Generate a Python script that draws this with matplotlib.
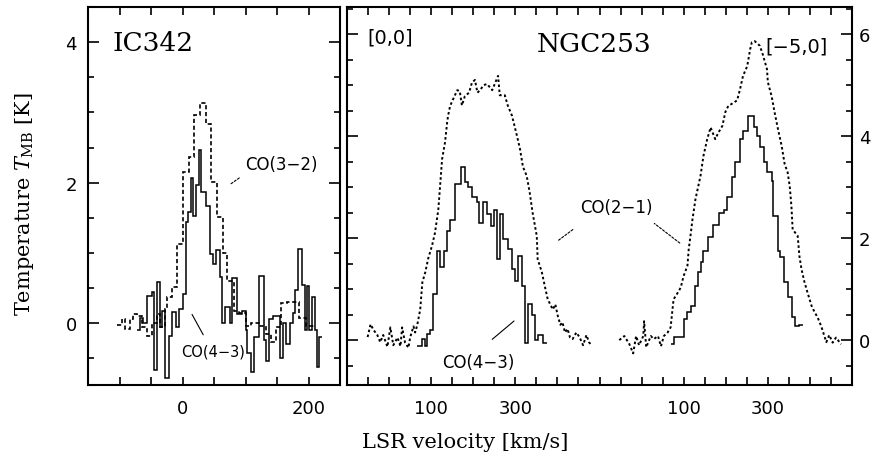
import matplotlib
matplotlib.use("Agg")
import matplotlib.pyplot as plt
import numpy as np

# ---------------- data ----------------
# IC342 CO(4-3) (solid histogram): channel edges [km/s] and T_MB [K]
ic_co43_edges = [-73, -68, -62, -56, -49, -46, -41, -35, -32, -27, -22, -16, -11, -5, 1,
                 5, 9, 13, 17, 22, 26, 30, 37, 43, 49, 53, 59, 63, 68, 76, 79, 86, 94,
                 100, 103, 108, 113, 121, 130, 133, 138, 144, 154, 160, 165, 170, 175,
                 179, 184, 190, 194, 197, 200, 205, 210, 213, 217, 222]
ic_co43_T = [-0.1, 0.07, 0.0, 0.39, 0.44, -0.66, 0.58, -0.06, 0.18, -0.78, -0.18, 0.16,
             -0.06, 0.2, 0.42, 1.44, 1.58, 2.06, 1.53, 1.96, 2.46, 1.87, 1.67, 0.99, 0.84,
             1.04, 0.66, 0.0, 0.23, 0.0, 0.64, 0.13, 0.17, -0.1, -0.43, -0.69, -0.2, 0.67,
             -0.24, -0.54, 0.06, 0.1, -0.5, 0.0, -0.3, 0.0, 0.15, 0.47, 1.06, 0.55, -0.1,
             0.53, -0.1, 0.37, -0.1, -0.62, -0.2]

# IC342 CO(3-2) (dashed histogram)
ic_co32_edges = [-104, -96, -92, -84, -79, -73, -65, -57, -49, -41, -36, -28, -24, -16, -8,
                 0, 11, 19, 27, 38, 46, 55, 64, 71, 82, 90, 101, 109, 122, 133, 141, 149,
                 156, 166, 185, 196, 212]
ic_co32_T = [-0.03, 0.06, -0.08, 0.06, 0.13, 0.1, -0.06, -0.18, 0.0, 0.13, -0.06, 0.2,
             0.37, 0.51, 1.13, 2.15, 2.37, 2.96, 3.13, 2.84, 2.01, 1.51, 1.0, 0.6, 0.17,
             0.14, -0.04, 0.0, -0.04, -0.15, -0.27, -0.05, 0.28, 0.3, 0.07, -0.04]

# NGC253 [0,0] CO(4-3) (solid histogram)
n00_co43_edges = [67, 79, 86, 91, 98, 105, 114, 121, 131, 138, 145, 157, 171, 180, 188,
                  197, 209, 214, 223, 233, 242, 249, 256, 263, 270, 282, 292, 299, 306,
                  315, 322, 330, 339, 346, 353, 365, 375]
n00_co43_T = [-0.11, 0.03, -0.11, 0.12, 0.2, 0.9, 1.75, 1.43, 1.75, 2.14, 2.35, 3.06,
              3.39, 3.1, 3.0, 2.8, 2.7, 2.3, 2.7, 2.47, 2.24, 2.55, 1.59, 2.47, 1.98,
              1.78, 1.39, 1.16, 1.65, 1.06, -0.05, 0.7, 0.5, 0.0, 0.1, -0.05]

# NGC253 [0,0] CO(2-1) (dotted)
n00_co21_v = [-51, -44, -37, -28, -21, -14, -4, 3, 10, 20, 27, 31, 38, 46, 50, 58, 62, 67,
              74, 79, 86, 93, 102, 109, 117, 121, 126, 133, 138, 140, 145, 152, 162, 168,
              173, 180, 190, 197, 204, 210, 216, 225, 233, 245, 259, 263, 275, 282, 292,
              304, 311, 318, 327, 334, 341, 351, 353, 363, 370, 377, 389, 395, 401, 407,
              412, 418, 424, 430, 436, 445, 453, 461, 469, 475, 481]
n00_co21_T = [0.06, 0.31, 0.2, 0.1, -0.04, 0.1, -0.13, 0.25, -0.1, 0.05, -0.12, 0.25,
              -0.05, -0.15, 0.05, 0.27, 0.15, 0.3, 0.6, 1.13, 1.33, 1.6, 1.85, 2.1, 2.56,
              3.0, 3.55, 3.88, 4.27, 4.39, 4.59, 4.72, 4.9, 4.88, 4.6, 4.78, 4.85, 5.05,
              5.1, 4.85, 4.9, 5.0, 5.02, 4.9, 5.18, 4.8, 4.8, 4.6, 4.4, 4.0, 3.75, 3.4,
              3.22, 2.9, 2.5, 2.04, 1.59, 1.33, 1.06, 0.8, 0.6, 0.7, 0.47, 0.3, 0.35,
              0.15, 0.22, 0.05, 0.02, 0.15, 0.05, -0.1, 0.1, -0.04, -0.1]

# NGC253 [-5,0] CO(4-3) (solid histogram)
n50_co43_edges = [69, 76, 100, 109, 117, 126, 133, 140, 147, 157, 169, 183, 195, 204, 216,
                  223, 235, 242, 252, 266, 275, 282, 290, 299, 309, 313, 323, 330, 339,
                  349, 358, 365, 373, 384]
n50_co43_T = [-0.08, 0.06, 0.41, 0.55, 0.67, 1.06, 1.33, 1.53, 1.75, 2.02, 2.25, 2.5,
              2.55, 2.8, 3.2, 3.5, 3.94, 4.1, 4.4, 4.17, 4.0, 3.78, 3.49, 3.3, 3.12, 2.43,
              1.75, 1.63, 1.14, 0.84, 0.45, 0.28, 0.3]

# NGC253 [-5,0] CO(2-1) (dotted)
n50_co21_v = [-53, -41, -29, -20, -13, -6, 4, 6, 11, 22, 29, 39, 46, 53, 62, 69, 76, 86,
              93, 100, 109, 112, 116, 121, 128, 140, 147, 156, 164, 175, 182, 192, 199,
              206, 218, 227, 234, 241, 251, 258, 262, 269, 281, 288, 298, 300, 309, 316,
              324, 333, 340, 347, 352, 356, 359, 371, 375, 380, 387, 394, 404, 411, 418,
              427, 439, 446, 454, 462, 474]
n50_co21_T = [0.0, 0.08, -0.08, -0.26, 0.08, -0.1, 0.08, 0.37, -0.14, 0.08, 0.02, 0.08,
              -0.12, 0.08, 0.15, 0.25, 0.8, 0.93, 1.03, 1.26, 1.46, 1.78, 2.03, 2.37,
              2.76, 3.22, 3.61, 3.94, 4.17, 3.94, 4.06, 4.2, 4.47, 4.59, 4.65, 4.7, 4.92,
              5.18, 5.37, 5.7, 5.84, 5.86, 5.77, 5.6, 5.31, 5.06, 4.78, 4.47, 4.14, 3.8,
              3.45, 3.29, 3.02, 2.63, 2.17, 2.04, 1.65, 1.39, 1.14, 0.94, 0.67, 0.55,
              0.45, 0.27, -0.04, 0.1, -0.05, 0.05, -0.08]

offset_right = 600.0   # the [-5,0] spectrum is drawn shifted along the panel's x axis

# ---------------- figure ----------------
plt.rcParams['mathtext.fontset'] = 'dejavuserif'
fig = plt.figure(figsize=(8.74, 4.6), dpi=100)
W, H = 874.0, 460.0
axL = fig.add_axes([88 / W, 1 - 386 / H, 252 / W, 378 / H])
axR = fig.add_axes([347 / W, 1 - 386 / H, 505 / W, 378 / H])

lw_spine = 1.5
for ax in (axL, axR):
    for s in ax.spines.values():
        s.set_linewidth(lw_spine)

solid_kw = dict(color='black', linewidth=1.1, baseline=None)
dash_kw = dict(color='black', linewidth=1.2, linestyle=(0, (2.5, 1.6)), baseline=None)
dot_kw = dict(color='black', linewidth=1.4, linestyle=(0, (1.3, 1.3)))

# Left panel: IC342
axL.stairs(ic_co32_T, ic_co32_edges, **dash_kw)
axL.stairs(ic_co43_T, ic_co43_edges, **solid_kw)
axL.set_xlim(-150, 250)
axL.set_ylim(-0.88, 4.5)

# Right panel: NGC253
axR.plot(n00_co21_v, n00_co21_T, **dot_kw)
axR.stairs(n00_co43_T, n00_co43_edges, **solid_kw)
axR.plot(np.array(n50_co21_v) + offset_right, n50_co21_T, **dot_kw)
axR.stairs(n50_co43_T, np.array(n50_co43_edges) + offset_right, **solid_kw)
axR.set_xlim(-100, 1100)
axR.set_ylim(-0.88, 6.53)

tick_font = dict(family='DejaVu Sans', size=13)

# Left panel ticks
axL.set_xticks(np.arange(-100, 201, 50))
axL.set_xticklabels(['' if v not in (0, 200) else str(v) for v in range(-100, 201, 50)], **tick_font)
axL.set_yticks([0, 2, 4])
axL.set_yticklabels(['0', '2', '4'], **tick_font)
axL.set_yticks(np.arange(-0.5, 4.51, 0.5), minor=True)
axL.tick_params(axis='both', which='both', direction='in', top=True, right=True, width=1.2)
axL.tick_params(axis='x', which='major', length=6, pad=10)
axL.tick_params(axis='y', which='major', length=8, pad=8)
axL.tick_params(axis='y', which='minor', length=4)

# Right panel ticks
xt = np.arange(-50, 1051, 50)
labs = {100: '100', 300: '300', 700: '100', 900: '300'}
axR.set_xticks(xt)
axR.set_xticklabels([labs.get(int(v), '') for v in xt], **tick_font)
axR.set_yticks([0, 2, 4, 6])
axR.set_yticklabels(['0', '2', '4', '6'], **tick_font)
axR.set_yticks(np.arange(-0.5, 6.51, 0.5), minor=True)
axR.tick_params(axis='both', which='both', direction='in', top=True, right=True, width=1.2)
axR.tick_params(axis='x', which='major', length=6, pad=10)
axR.tick_params(axis='y', which='major', length=8, pad=5, labelleft=False, labelright=True)
axR.tick_params(axis='y', which='minor', length=4)

# Titles / labels inside panels
axL.text(-47, 4.0, 'IC342', family='DejaVu Serif', fontsize=19, ha='center', va='center')
axR.text(488, 5.81, 'NGC253', family='DejaVu Serif', fontsize=19, ha='center', va='center')
axR.text(-51, 5.95, '[0,0]', family='DejaVu Sans', fontsize=14, ha='left', va='center')
axR.text(968, 5.77, '[\u22125,0]', family='DejaVu Sans', fontsize=14, ha='center', va='center')

# Line identifications with leader lines
axL.text(157, 2.26, 'CO(3\u22122)', family='DejaVu Sans', fontsize=12, ha='center', va='center')
axL.annotate('', xy=(71.6, 1.95), xytext=(93.7, 2.09),
             arrowprops=dict(arrowstyle='-', linestyle=(0, (2, 1.5)), lw=0.8, color='black'))
axL.text(48, -0.4, 'CO(4\u22123)', family='DejaVu Sans', fontsize=10.5, ha='center', va='center')
axL.annotate('', xy=(13, 0.16), xytext=(35, -0.2),
             arrowprops=dict(arrowstyle='-', lw=0.8, color='black'))

axR.text(539, 2.61, 'CO(2\u22121)', family='DejaVu Sans', fontsize=12, ha='center', va='center')
axR.annotate('', xy=(395, 1.91), xytext=(442, 2.2),
             arrowprops=dict(arrowstyle='-', linestyle=(0, (2, 1.5)), lw=0.8, color='black'))
axR.annotate('', xy=(625, 2.32), xytext=(696, 1.87),
             arrowprops=dict(arrowstyle='-', linestyle=(0, (2, 1.5)), lw=0.8, color='black'))
axR.text(212, -0.43, 'CO(4\u22123)', family='DejaVu Sans', fontsize=12, ha='center', va='center')
axR.annotate('', xy=(240, -0.02), xytext=(302, 0.41),
             arrowprops=dict(arrowstyle='-', lw=0.8, color='black'))

# Axis titles
fig.text(25 / W, 1 - 204 / H, r'Temperature $T_{\rm MB}$ [K]', family='DejaVu Serif',
         fontsize=15, rotation=90, ha='center', va='center')
fig.text(465 / W, 1 - 443 / H, 'LSR velocity [km/s]', family='DejaVu Serif',
         fontsize=15, ha='center', va='center')

fig.savefig('out.png', dpi=100)
